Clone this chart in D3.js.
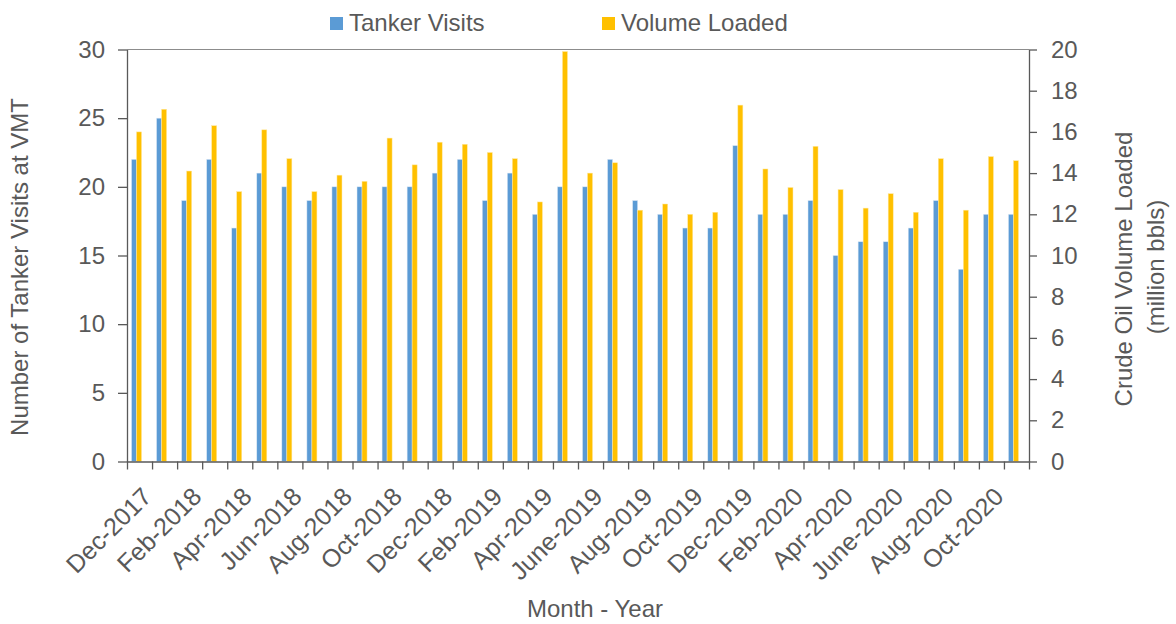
<!DOCTYPE html>
<html>
<head>
<meta charset="utf-8">
<script src="https://cdn.jsdelivr.net/npm/d3@7"></script>
<style>
    body { margin: 0; background: #fff; }
    svg { display: block; font-family: "Liberation Sans", Arial, sans-serif; }
    .axis text { fill: #595959; font-size: 24px; }
    .axis path, .axis line { stroke: #595959; }
</style>
</head>
<body>
<div id="chart"></div>
<script>
// Chart data
const months = ['Dec-2017', 'Jan-2018', 'Feb-2018', 'Mar-2018', 'Apr-2018', 'May-2018', 'Jun-2018', 'Jul-2018',
    'Aug-2018', 'Sep-2018', 'Oct-2018', 'Nov-2018', 'Dec-2018', 'Jan-2019', 'Feb-2019', 'Mar-2019',
    'Apr-2019', 'May-2019', 'June-2019', 'Jul-2019', 'Aug-2019', 'Sep-2019', 'Oct-2019', 'Nov-2019',
    'Dec-2019', 'Jan-2020', 'Feb-2020', 'Mar-2020', 'Apr-2020', 'May-2020', 'June-2020', 'Jul-2020',
    'Aug-2020', 'Sep-2020', 'Oct-2020', 'Nov-2020'];
const tankerVisits = [22, 25, 19, 22, 17, 21, 20, 19, 20, 20, 20, 20, 21, 22, 19, 21, 18, 20,
    20, 22, 19, 18, 17, 17, 23, 18, 18, 19, 15, 16, 16, 17, 19, 14, 18, 18];
const volumeLoaded = [16.0, 17.1, 14.1, 16.3, 13.1, 16.1, 14.7, 13.1, 13.9, 13.6, 15.7, 14.4,
    15.5, 15.4, 15.0, 14.7, 12.6, 19.9, 14.0, 14.5, 12.2, 12.5, 12.0, 12.1,
    17.3, 14.2, 13.3, 15.3, 13.2, 12.3, 13.0, 12.1, 14.7, 12.2, 14.8, 14.6];
const leftTicks = [0, 5, 10, 15, 20, 25, 30];
const rightTicks = [0, 2, 4, 6, 8, 10, 12, 14, 16, 18, 20];
const seriesNames = ['Tanker Visits', 'Volume Loaded'];
const seriesColors = ['#5b9bd5', '#ffc000'];

const width = 1176;
const height = 624;
const plot = { left: 127, right: 1029, top: 49.5, bottom: 461.5 };

const svg = d3.select('#chart')
    .append('svg')
    .attr('width', width)
    .attr('height', height);

// Scales
const x = d3.scaleBand()
    .domain(months)
    .range([plot.left, plot.right])
    .padding(0);

// bars sit left of the band centre, side by side
const xSub = d3.scaleBand()
    .domain(seriesNames)
    .range([x.bandwidth() * 0.18, x.bandwidth() * 0.58]);

const yLeft = d3.scaleLinear().domain([0, 30]).range([plot.bottom, plot.top]);
const yRight = d3.scaleLinear().domain([0, 20]).range([plot.bottom, plot.top]);

// Top border of plot area
svg.append('line')
    .attr('x1', plot.left).attr('x2', plot.right)
    .attr('y1', plot.top).attr('y2', plot.top)
    .attr('stroke', '#8c8c8c')
    .attr('stroke-width', 1.2);

// Bars
const groups = svg.append('g')
    .selectAll('g')
    .data(months)
    .enter()
    .append('g')
    .attr('transform', d => `translate(${x(d)},0)`);

groups.append('rect')
    .attr('x', xSub('Tanker Visits'))
    .attr('width', xSub.bandwidth())
    .attr('y', (d, i) => yLeft(tankerVisits[i]))
    .attr('height', (d, i) => yLeft(0) - yLeft(tankerVisits[i]))
    .attr('fill', seriesColors[0])
    .attr('stroke', '#dbe8f5')
    .attr('stroke-width', 0.5);

groups.append('rect')
    .attr('x', xSub('Volume Loaded'))
    .attr('width', xSub.bandwidth())
    .attr('y', (d, i) => yRight(volumeLoaded[i]))
    .attr('height', (d, i) => yRight(0) - yRight(volumeLoaded[i]))
    .attr('fill', seriesColors[1])
    .attr('stroke', '#ffe8a0')
    .attr('stroke-width', 0.5);

// Left axis
svg.append('g')
    .attr('class', 'axis')
    .attr('transform', `translate(${plot.left},0)`)
    .call(d3.axisLeft(yLeft).tickValues(leftTicks).tickSize(9).tickPadding(13).tickSizeOuter(0))
    .call(g => g.selectAll('path, line').attr('stroke-width', 1.3));

// Right axis
svg.append('g')
    .attr('class', 'axis')
    .attr('transform', `translate(${plot.right},0)`)
    .call(d3.axisRight(yRight).tickValues(rightTicks).tickSize(8).tickPadding(14).tickSizeOuter(0))
    .call(g => g.selectAll('path, line').attr('stroke-width', 1.3));

// Bottom axis: ticks on the band edges
const xEdge = d3.scaleLinear().domain([0, months.length]).range([plot.left, plot.right]);
svg.append('g')
    .attr('class', 'axis')
    .attr('transform', `translate(0,${plot.bottom})`)
    .call(d3.axisBottom(xEdge).tickValues(d3.range(months.length + 1)).tickFormat('').tickSize(8).tickSizeOuter(0))
    .call(g => g.selectAll('path, line').attr('stroke-width', 1.3));

// Month labels, every other month
svg.append('g')
    .selectAll('text')
    .data(months.filter((d, i) => i % 2 === 0))
    .enter()
    .append('text')
    .attr('transform', d => `translate(${x(d) + x.bandwidth() / 2 + 1},${plot.bottom + 24}) rotate(-45)`)
    .attr('text-anchor', 'end')
    .attr('dy', '0.71em')
    .attr('fill', '#595959')
    .style('font-size', '25px')
    .text(d => d);

// Axis titles
svg.append('text')
    .attr('transform', 'translate(28,267) rotate(-90)')
    .attr('text-anchor', 'middle')
    .attr('fill', '#595959')
    .style('font-size', '24px')
    .text('Number of Tanker Visits at VMT');

svg.append('text')
    .attr('transform', 'translate(1132,269) rotate(-90)')
    .attr('text-anchor', 'middle')
    .attr('fill', '#595959')
    .style('font-size', '24px')
    .text('Crude Oil Volume Loaded');

svg.append('text')
    .attr('transform', 'translate(1164,267) rotate(-90)')
    .attr('text-anchor', 'middle')
    .attr('fill', '#595959')
    .style('font-size', '24px')
    .text('(million bbls)');

svg.append('text')
    .attr('x', 595)
    .attr('y', 617)
    .attr('text-anchor', 'middle')
    .attr('fill', '#595959')
    .style('font-size', '24px')
    .text('Month - Year');

// Legend
const legendX = [330, 602];
const legend = svg.append('g')
    .selectAll('g')
    .data(seriesNames)
    .enter()
    .append('g')
    .attr('transform', (d, i) => `translate(${legendX[i]},17)`);

legend.append('rect')
    .attr('width', 13)
    .attr('height', 13)
    .attr('fill', (d, i) => seriesColors[i]);

legend.append('text')
    .attr('x', 19)
    .attr('y', 14)
    .attr('fill', '#595959')
    .style('font-size', '24px')
    .text(d => d);
</script>
</body>
</html>
